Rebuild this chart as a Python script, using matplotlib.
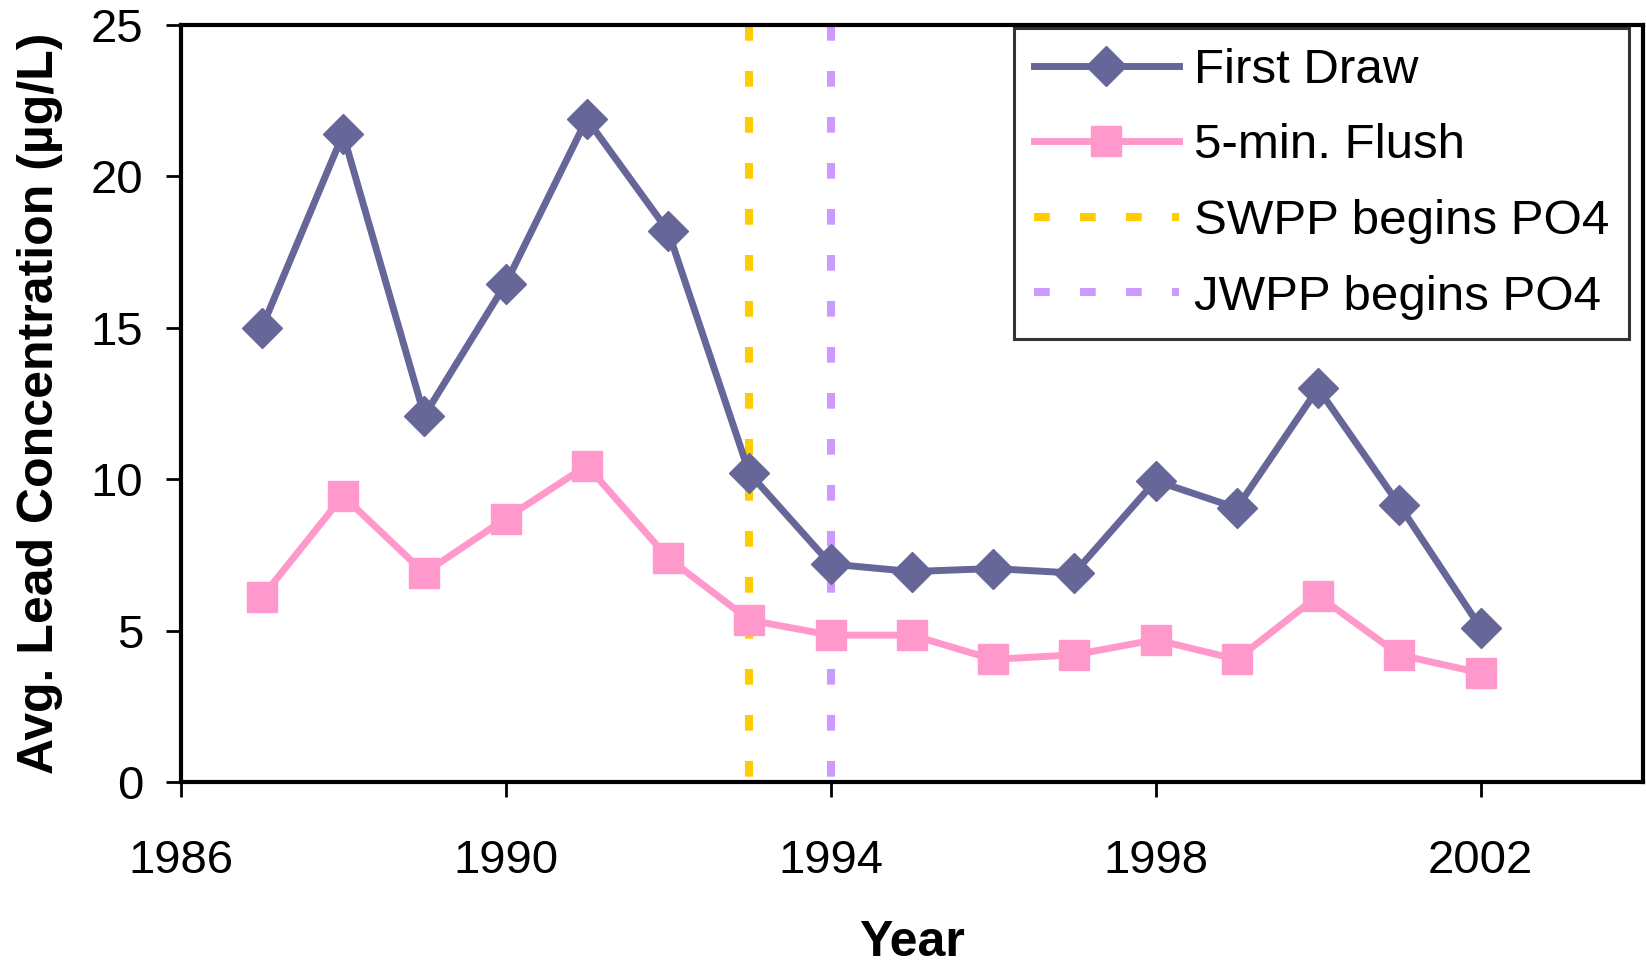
import matplotlib
matplotlib.use('Agg')
import matplotlib.pyplot as plt

plt.rcParams['font.family'] = ['Liberation Sans', 'DejaVu Sans']

years = [1987, 1988, 1989, 1990, 1991, 1992, 1993, 1994,
         1995, 1996, 1997, 1998, 1999, 2000, 2001, 2002]
first_draw = [15.0, 21.4, 12.1, 16.45, 21.9, 18.2, 10.2, 7.2,
              6.95, 7.05, 6.9, 9.95, 9.05, 13.0, 9.15, 5.1]
flush_5min = [6.1, 9.45, 6.9, 8.7, 10.45, 7.4, 5.35, 4.85,
              4.85, 4.05, 4.2, 4.7, 4.05, 6.15, 4.2, 3.6]
swpp_year = 1993
jwpp_year = 1994
x_ticks = [1986, 1990, 1994, 1998, 2002]
y_ticks = [0, 5, 10, 15, 20, 25]

fig = plt.figure(figsize=(16.46, 9.66), dpi=100)
ax = fig.add_axes([0.1097, 0.1905, 0.8885, 0.7835])

ax.plot(years, first_draw, color='#666699', lw=5, marker='D', ms=20,
        mew=1, label='First Draw', zorder=4)
ax.plot(years, flush_5min, color='#FF99CC', lw=5, marker='s', ms=21.5,
        mew=1, label='5-min. Flush', zorder=3)
# draw the PO4 start lines top-down so the dash pattern starts at the top
ax.axvline(swpp_year, ymin=1, ymax=0, color='#FFCC00', lw=5.8,
           dashes=(1.95, 3.76), label='SWPP begins PO4', zorder=2)
ax.axvline(jwpp_year, ymin=1, ymax=0, color='#CC99FF', lw=5.8,
           dashes=(1.95, 3.76), label='JWPP begins PO4', zorder=2)

ax.set_xlim(1986, 2004)
ax.set_ylim(0, 25)
ax.set_xticks(x_ticks)
ax.set_yticks(y_ticks)
ax.tick_params(direction='out', length=11, width=2, labelsize=34)
ax.tick_params(axis='x', pad=30)
ax.tick_params(axis='y', pad=16)
for s in ax.spines.values():
    s.set_linewidth(3)

ax.set_xlabel('Year', fontsize=36, fontweight='bold')
ax.set_ylabel('Avg. Lead Concentration (µg/L)', fontsize=36,
              fontweight='bold')
ax.xaxis.label.set_va('center')
ax.yaxis.label.set_va('center')
ax.xaxis.set_label_coords(0.5, -0.213)
ax.yaxis.set_label_coords(-0.096, 0.5)

leg = ax.legend(loc='upper right', bbox_to_anchor=(0.9904, 0.996),
                fontsize=35.5, handlelength=2.95, handletextpad=0.3,
                labelspacing=0.62, numpoints=1, fancybox=False,
                borderpad=0.4, borderaxespad=0)
leg.get_frame().set_edgecolor('black')
leg.get_frame().set_linewidth(2.2)

fig.savefig('out.png', dpi=100)
